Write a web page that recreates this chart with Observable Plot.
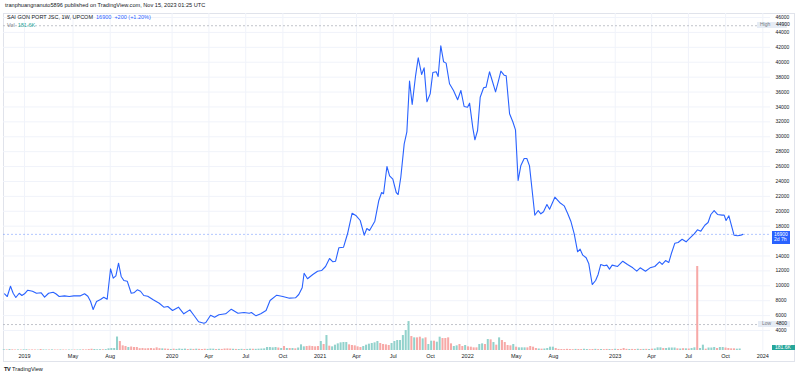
<!DOCTYPE html>
<html><head><meta charset="utf-8">
<script src="https://cdn.jsdelivr.net/npm/d3@7"></script>
<script src="https://cdn.jsdelivr.net/npm/@observablehq/plot@0.6"></script>
<style>
body{margin:0;background:#fff;font-family:"Liberation Sans",Arial,sans-serif;}
#wrap{position:relative;width:800px;height:378px;overflow:hidden;background:#fff}
.abs{position:absolute;white-space:nowrap;line-height:1}
#wrap svg{position:absolute;left:0;top:0}
</style></head><body><div id="wrap"></div>
<script>
// ---- data ----
const priceYear = [2018.865,2018.883,2018.905,2018.923,2018.941,2018.964,2018.982,2019.000,2019.022,2019.054,2019.081,2019.113,2019.136,2019.163,2019.194,2019.212,2019.235,2019.271,2019.303,2019.334,2019.379,2019.407,2019.429,2019.447,2019.465,2019.488,2019.515,2019.537,2019.560,2019.583,2019.601,2019.619,2019.637,2019.655,2019.673,2019.696,2019.723,2019.741,2019.764,2019.786,2019.808,2019.835,2019.872,2019.913,2019.944,2019.971,2020.003,2020.043,2020.079,2020.120,2020.147,2020.179,2020.215,2020.228,2020.260,2020.287,2020.316,2020.362,2020.400,2020.445,2020.486,2020.522,2020.536,2020.567,2020.599,2020.635,2020.662,2020.707,2020.748,2020.793,2020.834,2020.856,2020.879,2020.892,2020.915,2020.951,2020.983,2021.010,2021.037,2021.064,2021.087,2021.105,2021.127,2021.159,2021.186,2021.217,2021.245,2021.272,2021.299,2021.317,2021.335,2021.371,2021.398,2021.417,2021.430,2021.453,2021.471,2021.493,2021.516,2021.529,2021.547,2021.570,2021.588,2021.606,2021.624,2021.647,2021.665,2021.688,2021.705,2021.724,2021.746,2021.764,2021.787,2021.800,2021.818,2021.837,2021.854,2021.877,2021.904,2021.932,2021.954,2021.976,2021.999,2022.013,2022.035,2022.049,2022.067,2022.085,2022.108,2022.125,2022.148,2022.166,2022.189,2022.207,2022.225,2022.247,2022.261,2022.284,2022.306,2022.324,2022.342,2022.360,2022.383,2022.401,2022.419,2022.437,2022.455,2022.478,2022.496,2022.514,2022.537,2022.555,2022.591,2022.623,2022.654,2022.677,2022.699,2022.722,2022.745,2022.762,2022.780,2022.803,2022.821,2022.844,2022.867,2022.884,2022.902,2022.925,2022.943,2022.961,2022.979,2023.016,2023.051,2023.083,2023.119,2023.146,2023.169,2023.205,2023.236,2023.268,2023.300,2023.318,2023.341,2023.363,2023.381,2023.404,2023.426,2023.453,2023.480,2023.507,2023.535,2023.557,2023.580,2023.607,2023.629,2023.648,2023.670,2023.693,2023.724,2023.738,2023.751,2023.770,2023.805,2023.829,2023.851,2023.864];
const priceClose = [8925,8560,9945,9000,8430,9000,8700,8925,9410,9270,9000,9060,8470,9000,9140,8925,8560,8650,8560,8650,8650,8925,8600,7930,6820,7890,8160,8470,8200,12280,11020,11340,13030,11250,10710,10620,9000,9060,9460,9270,8700,8600,8120,7660,7130,7220,6680,7130,6240,6770,6050,5170,4980,5070,6050,5790,6110,6240,6860,6320,6420,6320,6420,5970,6240,6680,8030,8740,8560,8340,8390,8830,9730,11690,10940,11520,11960,12050,12590,13660,13220,13300,15100,15180,16980,19740,19390,18760,16790,17690,17420,18670,21450,22520,22350,26010,24760,24300,22520,22250,24570,29050,30660,37460,34330,38180,40600,38360,39250,34690,35760,38620,38720,38090,42210,40060,39880,37110,36210,34960,36210,34060,33970,34510,31200,29590,30840,35310,36570,36660,38720,37550,36030,37370,38800,38260,38180,33080,32010,30930,24130,26100,27080,27080,26100,22790,19470,20100,19660,19930,20910,20280,21890,21180,20730,19740,18670,16980,14560,14910,14110,13760,12950,10170,10710,11520,12860,12680,12770,12230,12770,12590,13300,12860,12410,11960,12410,11960,12410,12590,13220,12860,13390,13130,14370,15720,15810,16250,15900,16440,16980,17510,17330,18130,18490,19570,20100,19570,19480,19480,18760,19390,16790,16710,16790,16900];

// weekly volume (thousands), first week starting 2018-11-12
const volFirstWeek = "2018-11-12";
const volK = [90,70,110,80,60,70,60,80,90,60,70,60,50,120,70,60,60,80,60,60,70,60,50,60,50,60,60,70,80,70,110,150,120,90,100,90,110,
200,240,240,1620,1080,560,480,360,420,360,360,
220,240,200,220,240,200,320,220,200,180,
150,120,160,130,180,140,170,120,150,130,160,140,120,150,130,170,160,120,140,130,180,190,170,150,130,120,140,120,130,160,150,140,160,180,200,
360,360,320,360,300,240,480,240,240,240,200,300,680,440,480,520,480,440,480,1080,
720,1800,520,440,640,800,920,960,960,680,600,560,440,360,480,640,760,840,920,1080,
840,720,680,600,840,1080,1200,1200,1800,2400,3480,1680,1520,1520,1600,1400,1520,720,1120,1120,
1000,1600,1440,1440,1520,800,480,560,720,480,600,440,400,320,320,720,800,720,1320,1280,
960,640,1520,1200,960,600,560,720,400,320,320,320,320,480,400,240,180,160,180,240,
400,400,240,130,120,110,140,120,100,130,120,110,150,120,100,120,140,110,120,100,
130,120,110,150,120,130,240,140,120,130,110,150,120,130,140,120,160,180,320,320,
240,240,300,300,300,200,180,220,200,180,240,320,10100,240,640,160,300,300,360,240,
360,360,300,240,200,200,160,181.6];
const volDir = "grgrrgrggrrrgrggrgrrgrrggrggrrrrgggrg" + "ggggrrrgrrr" + "rrrrrrrrgr" +
  "rgrggggrgr" + "grrrgggrgr" + "rrrgrggrgg" + "rgggg" +
  "ggggrgrgrg" + "rgggrrrrrg" + "rgrggggggr" + "rrrrgggggg" + "rrrrgggggg" + "grgrrgrggr" +
  "ggrrrrggrr" + "grrrrggrgr" + "grgrrrrgrg" + "ggrrrrgrgg" + "ggrrrrrrrg" + "rrggrrgrgr" +
  "rgrgrrrrgr" + "rgrgrgrggg" + "rggggrgrgr" + "ggrggrgggr" + "ggrrrrgg";

const tickDates = ["2019-01-01","2019-05-01","2019-08-01","2020-01-01","2020-04-01","2020-07-01","2020-10-01","2021-01-01","2021-04-01","2021-07-01","2021-10-01","2022-01-01","2022-05-01","2022-08-01","2023-01-01","2023-04-01","2023-07-01","2023-10-01","2024-01-01"];
const tickLabels = ["2019","May","Aug","2020","Apr","Jul","Oct","2021","Apr","Jul","Oct","2022","May","Aug","2023","Apr","Jul","Oct","2024"];
const gridPrices = [4000,6000,8000,10000,12000,14000,16000,18000,20000,22000,24000,26000,28000,30000,32000,34000,36000,38000,40000,42000,44000,46000];
const labelPrices = [4000,6000,8000,10000,12000,14000,18000,20000,22000,24000,26000,28000,30000,32000,34000,36000,38000,40000,42000,44000,46000];
const highPrice = 44900, lowPrice = 4800, lastPrice = 16900;
const lastVolText = "181.6K";

// ---- build ----
const fromYear = t => { const y = Math.floor(t); const a = Date.UTC(y,0,1), b = Date.UTC(y+1,0,1); return new Date(a + (t - y) * (b - a)); };
const priceRows = priceYear.map((t, i) => ({date: fromYear(t), close: priceClose[i]}));
const w0 = new Date(volFirstWeek + "T00:00:00Z").getTime();
const DAY = 864e5;
const volRows = volK.map((v, i) => ({date: new Date(w0 + i * 7 * DAY), vol: v, up: volDir[i] === "g"}));
const ticks = tickDates.map(s => new Date(s + "T00:00:00Z"));
const labelMap = new Map(ticks.map((d, i) => [+d, tickLabels[i]]));
const xDomain = [new Date("2018-11-10T00:00:00Z"), new Date("2024-01-20T00:00:00Z")];
const FONT = '"Liberation Sans", Arial, sans-serif';
const common = {width: 800, height: 378, marginTop: 13, marginBottom: 28, marginLeft: 3, marginRight: 30};

const price = Plot.plot({
  ...common,
  x: {type: "utc", domain: xDomain, label: null},
  y: {domain: [1316, 46541], label: null},
  style: {background: "transparent", fontFamily: FONT, color: "#131722", overflow: "visible"},
  marks: [
    Plot.ruleY(gridPrices, {stroke: "#f0f3fa", strokeWidth: 1}),
    Plot.ruleX(ticks, {stroke: "#f0f3fa", strokeWidth: 1}),
    Plot.ruleY([highPrice], {stroke: "#b2b5be", strokeWidth: 0.8, strokeDasharray: "2,2"}),
    Plot.ruleY([lowPrice], {stroke: "#b2b5be", strokeWidth: 0.8, strokeDasharray: "2,2"}),
    Plot.ruleY([lastPrice], {stroke: "#2962ff", strokeOpacity: 0.45, strokeWidth: 0.8, strokeDasharray: "2,2"}),
    Plot.line(priceRows, {x: "date", y: "close", stroke: "#2962ff", strokeWidth: 1.1}),
    Plot.axisY(labelPrices, {anchor: "right", tickSize: 0, tickPadding: 5, fontSize: 5, textAnchor: "start", tickFormat: d => String(d), label: null}),
    Plot.axisX(ticks, {anchor: "bottom", tickSize: 0, tickPadding: 4, fontSize: 5.5, tickFormat: d => labelMap.get(+d), label: null})
  ]
});

const volume = Plot.plot({
  ...common,
  x: {type: "utc", domain: xDomain, axis: null},
  y: {domain: [0, 40520], axis: null},
  style: {background: "transparent"},
  marks: [
    Plot.rectY(volRows, {
      x1: d => new Date(+d.date - 3.5 * DAY), x2: d => new Date(+d.date + 3.5 * DAY),
      y: "vol", fill: d => d.up ? "#92d2cc" : "#f7a9a7", insetLeft: 0.4, insetRight: 0.4
    })
  ]
});

const wrap = document.getElementById("wrap");
function div(html, css) { const e = document.createElement("div"); e.className = "abs"; e.innerHTML = html; Object.assign(e.style, css); wrap.appendChild(e); return e; }

div("", {left: "3px", top: "12.5px", width: "792px", height: "349.5px", border: "1px solid #e0e3eb", boxSizing: "border-box"});
wrap.appendChild(price);
wrap.appendChild(volume);

const ys = price.scale("y");
div("tranphuangnanuto5896 published on TradingView.com, Nov 15, 2023 01:25 UTC", {left: "5px", top: "3px", fontSize: "5.6px", color: "#131722"});
div('SAI GON PORT JSC, 1W, UPCOM&nbsp;&nbsp;<span style="color:#2962ff">16900&nbsp;&nbsp;+200 (+1.20%)</span>', {left: "7px", top: "15px", fontSize: "5.5px", color: "#131722"});
div('Vol&nbsp;&nbsp;<span style="color:#26a69a">181.6K</span>', {left: "7px", top: "22.5px", fontSize: "5.5px", color: "#787b86"});

const yh = ys.apply(highPrice), yl = ys.apply(lowPrice), yc = ys.apply(lastPrice);
div('<span style="color:#787b86">High</span>', {left: "757px", top: (yh - 2.8) + "px", width: "30px", height: "5.6px", background: "#e6ecf5", fontSize: "5px", paddingLeft: "3px", boxSizing: "border-box", lineHeight: "5.6px"});
div(String(highPrice), {left: "776px", top: (yh - 2.8) + "px", fontSize: "5px", color: "#131722", lineHeight: "5.6px"});
div('<span style="color:#787b86">Low</span>', {left: "758px", top: (yl - 2.8) + "px", width: "32px", height: "5.6px", background: "#e6ecf5", fontSize: "5px", paddingLeft: "4px", boxSizing: "border-box", lineHeight: "5.6px"});
div(String(lowPrice), {left: "776px", top: (yl - 2.8) + "px", fontSize: "5px", color: "#131722", lineHeight: "5.6px"});
div(String(lastPrice) + "<br>2d 7h", {left: "772px", top: (yc - 3) + "px", width: "18px", height: "13px", background: "#2962ff", color: "#fff", fontSize: "5px", lineHeight: "5.6px", paddingLeft: "2px", paddingTop: "0.8px", boxSizing: "border-box"});
div(lastVolText, {left: "772px", top: "344.5px", width: "23px", height: "5.8px", background: "#26a69a", color: "#fff", fontSize: "5px", lineHeight: "5.8px", paddingLeft: "3px", boxSizing: "border-box"});
div('<b style="letter-spacing:-0.3px">TV</b>&nbsp;TradingView', {left: "4px", top: "367px", fontSize: "5.6px", color: "#131722"});
</script></body></html>
